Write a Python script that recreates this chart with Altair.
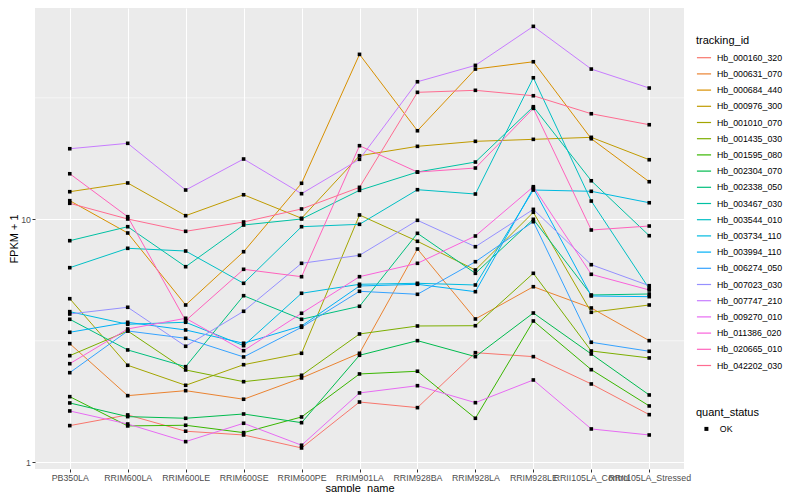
import altair as alt
import pandas as pd

samples = ["PB350LA", "RRIM600LA", "RRIM600LE", "RRIM600SE", "RRIM600PE", "RRIM901LA",
           "RRIM928BA", "RRIM928LA", "RRIM928LE", "RRII105LA_Control", "RRII105LA_Stressed"]

tracking_ids = ["Hb_000160_320", "Hb_000631_070", "Hb_000684_440", "Hb_000976_300", "Hb_001010_070",
                "Hb_001435_030", "Hb_001595_080", "Hb_002304_070", "Hb_002338_050", "Hb_003467_030",
                "Hb_003544_010", "Hb_003734_110", "Hb_003994_110", "Hb_006274_050", "Hb_007023_030",
                "Hb_007747_210", "Hb_009270_010", "Hb_011386_020", "Hb_020665_010", "Hb_042202_030"]

palette = ["#F8766D", "#EA8331", "#D89000", "#C09B00", "#A3A500", "#7CAE00", "#39B600", "#00BB4E",
           "#00BF7D", "#00C1A3", "#00BFC4", "#00BAE0", "#00B0F6", "#35A2FF", "#9590FF", "#C77CFF",
           "#E76BF3", "#FA62DB", "#FF62BC", "#FF6C91"]

# FPKM + 1 per sample (in the order of `samples`)
hb_000160_320 = [1.415, 1.566, 1.342, 1.295, 1.145, 1.770, 1.678, 2.825, 2.721, 2.100, 1.570]
hb_000631_070 = [3.077, 1.880, 1.971, 1.817, 2.223, 2.809, 7.547, 3.888, 5.279, 4.315, 3.166]
hb_000684_440 = [11.93, 8.783, 4.439, 7.356, 14.07, 47.75, 23.15, 41.54, 44.52, 21.46, 14.28]
hb_000976_300 = [12.99, 14.11, 10.35, 12.62, 10.10, 18.27, 19.97, 20.94, 21.34, 21.75, 17.59]
hb_001010_070 = [4.712, 2.507, 2.074, 2.521, 2.809, 10.42, 8.119, 6.186, 10.69, 4.143, 4.439]
hb_001435_030 = [2.746, 3.470, 2.398, 2.146, 2.280, 3.373, 3.638, 3.648, 5.995, 2.871, 2.687]
hb_001595_080 = [1.862, 1.411, 1.420, 1.324, 1.536, 2.309, 2.369, 1.517, 3.815, 2.405, 1.705]
hb_002304_070 = [1.754, 1.541, 1.517, 1.580, 1.455, 2.756, 3.166, 2.721, 4.115, 2.790, 1.892]
hb_002338_050 = [3.877, 2.899, 2.474, 4.848, 3.877, 4.385, 8.757, 5.995, 10.00, 4.881, 4.927]
hb_003467_030 = [8.165, 9.323, 6.381, 9.474, 10.03, 13.16, 15.65, 17.21, 29.07, 14.41, 8.561]
hb_003544_010 = [6.322, 7.597, 7.404, 5.453, 9.323, 9.537, 13.24, 12.71, 38.25, 11.89, 5.182]
hb_003734_110 = [4.167, 3.698, 3.769, 3.019, 4.961, 5.402, 5.453, 5.366, 13.20, 13.04, 11.70]
hb_003994_110 = [3.428, 3.767, 3.503, 3.089, 3.638, 5.315, 5.401, 5.036, 13.42, 4.835, 4.803]
hb_006274_050 = [2.337, 3.470, 3.238, 2.713, 3.594, 5.055, 4.913, 6.690, 9.775, 3.118, 2.863]
hb_007023_030 = [4.076, 4.344, 3.002, 4.182, 6.590, 7.109, 9.906, 7.713, 10.99, 6.504, 5.330]
hb_007747_210 = [19.52, 20.55, 13.20, 17.71, 12.75, 17.66, 36.83, 43.02, 62.27, 41.54, 34.70]
hb_009270_010 = [1.626, 1.437, 1.216, 1.447, 1.175, 1.929, 2.066, 1.759, 2.181, 1.371, 1.295]
hb_011386_020 = [2.545, 3.537, 3.914, 2.879, 4.104, 5.805, 6.590, 8.537, 13.62, 5.938, 5.118]
hb_020665_010 = [15.40, 10.25, 3.825, 6.226, 5.804, 20.09, 15.65, 16.26, 28.63, 9.036, 9.385]
hb_042202_030 = [11.64, 10.03, 8.925, 9.747, 11.03, 13.54, 33.32, 33.96, 32.26, 27.20, 24.51]

series = [hb_000160_320, hb_000631_070, hb_000684_440, hb_000976_300, hb_001010_070,
          hb_001435_030, hb_001595_080, hb_002304_070, hb_002338_050, hb_003467_030,
          hb_003544_010, hb_003734_110, hb_003994_110, hb_006274_050, hb_007023_030,
          hb_007747_210, hb_009270_010, hb_011386_020, hb_020665_010, hb_042202_030]

minor_breaks = [3.1623, 31.623]

rows = []
for tid, vals in zip(tracking_ids, series):
    for s, v in zip(samples, vals):
        rows.append({"sample_name": s, "tracking_id": tid, "fpkm": v, "quant_status": "OK"})
df = pd.DataFrame(rows)

FONT = "Liberation Sans"

xenc = alt.X("sample_name:N", sort=samples, title="sample_name",
             scale=alt.Scale(type="point", padding=0.6),
             axis=alt.Axis(grid=True, gridColor="white", gridWidth=1.07, domain=False,
                           tickColor="#333333", tickSize=3, labelColor="#4D4D4D",
                           labelFontSize=8.8, labelFont=FONT, labelAngle=0, labelOverlap=False,
                           labelPadding=1.5, titleFont=FONT, titleFontSize=11,
                           titleFontWeight="normal", titleColor="black",
                           titleBaseline="middle", titleY=19))
yscale = alt.Scale(type="log", domain=[0.938, 74.1], nice=False)
yenc = alt.Y("fpkm:Q", title="FPKM + 1", scale=yscale,
             axis=alt.Axis(values=[1, 10], format="d", grid=True, gridColor="white",
                           gridWidth=1.07, domain=False, tickColor="#333333", tickSize=3,
                           labelColor="#4D4D4D", labelFontSize=8.8, labelFont=FONT,
                           labelPadding=1.5, titleFont=FONT, titleFontSize=11,
                           titleFontWeight="normal", titleColor="black",
                           titleBaseline="middle", titleX=-21))

minor = alt.Chart(pd.DataFrame({"fpkm": minor_breaks})).mark_rule(
    color="white", strokeWidth=0.55).encode(y=alt.Y("fpkm:Q", scale=yscale, title="FPKM + 1"))

base = alt.Chart(df).encode(x=xenc, y=yenc)

lines = base.mark_line(strokeWidth=1.0).encode(
    color=alt.Color("tracking_id:N", scale=alt.Scale(domain=tracking_ids, range=palette),
                    legend=alt.Legend(title="tracking_id", orient="none", legendX=661, legendY=26.5,
                                      symbolType="stroke", symbolSize=200, symbolStrokeWidth=1.2,
                                      rowPadding=3.2, labelFontSize=8.8, labelFont=FONT,
                                      labelColor="black", titleFont=FONT, titleFontSize=11,
                                      titleFontWeight="normal", titleColor="black",
                                      titlePadding=4.2, labelOffset=5, padding=0)),
    detail="tracking_id:N",
)

points = base.mark_point(filled=True, size=13, opacity=1, color="black").encode(
    shape=alt.Shape("quant_status:N", scale=alt.Scale(domain=["OK"], range=["square"]),
                    legend=alt.Legend(title="quant_status", orient="none", legendX=661,
                                      legendY=398.5, symbolSize=16, symbolFillColor="black",
                                      symbolStrokeColor="black", symbolOffset=6,
                                      labelFontSize=8.8, labelFont=FONT, labelColor="black",
                                      titleFont=FONT, titleFontSize=11, titleFontWeight="normal",
                                      titleColor="black", titlePadding=7, labelOffset=9,
                                      padding=0)),
)

chart = alt.layer(minor, lines, points).properties(
    width=649, height=461,
    background="white",
    autosize=alt.AutoSizeParams(type="none"),
    padding={"left": 27, "top": 0, "right": 108, "bottom": 23},
).configure_view(fill="#EBEBEB", stroke=None)

chart.save("out.html", embed_options={"renderer": "svg", "actions": False})
